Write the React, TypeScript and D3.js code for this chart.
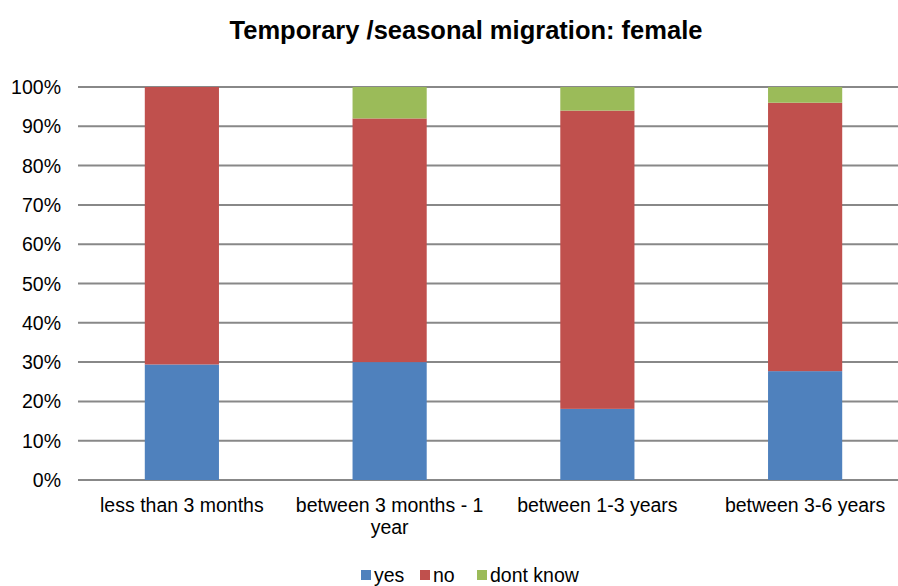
import React from "react";
import * as d3 from "d3";

const categories = [["less than 3 months"], ["between 3 months - 1", "year"], ["between 1-3 years"], ["between 3-6 years"]];
const seriesNames = ["yes", "no", "dont know"];
const yesValues = [29.4, 30, 18.1, 27.7];
const noValues = [70.6, 62, 75.9, 68.3];
const dontKnowValues = [0, 8, 6, 4];
const yTicks = [0, 10, 20, 30, 40, 50, 60, 70, 80, 90, 100];
const colors = ["#4F81BD", "#C0504D", "#9BBB59"];

export default function App() {
  const W = 898, H = 586;
  const left = 78, right = 909, top = 87, bottom = 480;
  const x = d3.scaleBand().domain(d3.range(categories.length).map(String)).range([left, right]).paddingInner(0.643).paddingOuter(0.3215);
  const y = d3.scaleLinear().domain([0, 100]).range([bottom, top]);
  const rows = categories.map((_, i) => ({ i: String(i), yes: yesValues[i], no: noValues[i], dk: dontKnowValues[i] }));
  const stack = d3.stack<any>().keys(["yes", "no", "dk"])(rows);
  const font = "Arial, 'Liberation Sans', sans-serif";
  const legendX = [361, 420, 477];
  return (
    <svg width={W} height={H} style={{ position: "absolute", left: 0, top: 0, background: "#fff" }} fontFamily={font}>
      <text x={466} y={39} textAnchor="middle" fontSize={25.5} fontWeight="bold" fill="#000">Temporary /seasonal migration: female</text>
      {yTicks.map(t => (
        <g key={t}>
          <line x1={left} x2={right} y1={y(t)} y2={y(t)} stroke="#888" strokeWidth={2} />
          <text x={61} y={y(t) + 7} textAnchor="end" fontSize={19.5} fill="#000">{t}%</text>
        </g>
      ))}
      {stack.map((s, k) => (
        <g key={k} fill={colors[k]}>
          {s.map((d, j) => (
            <rect key={j} x={x(String(j))} width={x.bandwidth()} y={y(d[1])} height={Math.max(0, y(d[0]) - y(d[1]))} />
          ))}
        </g>
      ))}
      {categories.map((lines, j) => {
        const cx = (x(String(j)) as number) + x.bandwidth() / 2;
        return (
          <text key={j} x={cx} y={512} textAnchor="middle" fontSize={19.5} fill="#000">
            {lines.map((l, li) => <tspan key={li} x={cx} dy={li === 0 ? 0 : 22}>{l}</tspan>)}
          </text>
        );
      })}
      {seriesNames.map((n, k) => (
        <g key={n}>
          <rect x={legendX[k]} y={570} width={10} height={10} fill={colors[k]} />
          <text x={legendX[k] + 13} y={582} fontSize={19.5} fill="#000">{n}</text>
        </g>
      ))}
    </svg>
  );
}
